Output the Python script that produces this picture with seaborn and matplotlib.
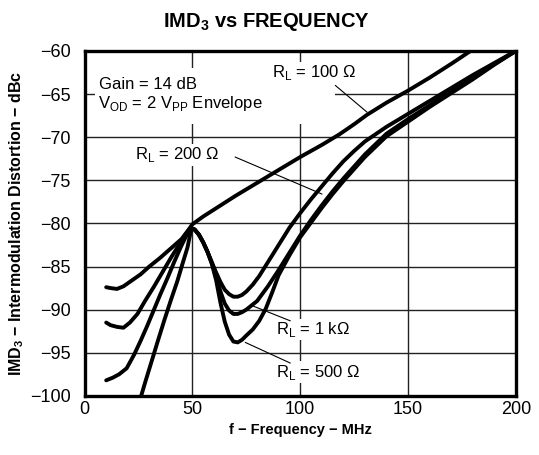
import numpy as np
import pandas as pd
import matplotlib
matplotlib.use("Agg")
import matplotlib.pyplot as plt
from matplotlib.patches import Rectangle
import seaborn as sns

# ---- data ----
freq_100 = [10, 12, 15, 18, 22, 26, 30, 35, 40, 45, 48, 50, 55, 60, 70, 80, 90, 100,
            105, 110, 118, 125, 131, 140, 150, 160, 170, 179]
imd_100 = [-87.4, -87.5, -87.6, -87.3, -86.6, -85.9, -85.0, -84.0, -82.9, -81.8, -80.8, -80.1,
           -79.2, -78.4, -76.8, -75.3, -73.8, -72.3, -71.6, -70.9, -69.7, -68.5, -67.4,
           -66.0, -64.6, -63.1, -61.5, -60.0]

freq_200 = [10, 12, 15, 18, 21, 24.5, 28, 32, 36, 40, 43, 46, 48, 49.5, 51, 53, 55, 57, 59,
            61, 63, 65, 67, 69, 71, 73, 75, 78, 81, 85, 90, 95, 100, 105, 110, 115, 120, 125,
            130, 140, 150, 160, 170, 180, 190, 200]
imd_200 = [-91.5, -91.8, -92.0, -92.1, -91.5, -90.5, -89.0, -87.4, -85.7, -84.0, -82.8,
           -81.6, -80.9, -80.6, -80.7, -81.3, -82.2, -83.3, -84.5, -85.7, -86.8, -87.7,
           -88.2, -88.5, -88.5, -88.3, -87.9, -87.1, -86.1, -84.5, -82.5, -80.5, -78.8, -77.2,
           -75.7, -74.2, -72.8, -71.6, -70.5, -68.8, -67.3, -65.8, -64.3, -62.8, -61.4, -60.0]

freq_1k = [10, 13, 16, 19.5, 23, 26, 29, 32, 35, 38.5, 41.5, 44.5, 47, 49.5, 51, 53, 55, 57,
           59, 61, 63, 65, 67, 69, 71, 73, 75, 80, 85, 90, 95, 100, 105, 110, 115, 120, 125,
           130, 140, 150, 160, 170, 180, 190, 200]
imd_1k = [-98.2, -97.9, -97.5, -96.8, -95.2, -93.6, -91.9, -90.1, -88.3, -86.3, -84.5,
          -82.8, -81.5, -80.6, -80.7, -81.3, -82.2, -83.3, -84.6, -86.1, -87.9, -89.3,
          -90.1, -90.5, -90.5, -90.3, -90.0, -89.0, -87.3, -85.4, -83.4, -81.4, -79.6,
          -77.9, -76.3, -74.8, -73.4, -72.0, -69.6, -67.9, -66.3, -64.7, -63.1, -61.5, -60.0]

freq_500 = [26, 28, 30.7, 34, 37, 40, 43, 45.5, 47.7, 49.5, 51, 53, 55, 57, 59, 61, 63, 65,
            67, 69, 71, 73, 75, 78, 81, 84, 87, 90, 95, 100, 105, 110, 115, 120, 125, 130,
            140, 150, 160, 170, 180, 190, 200]
imd_500 = [-100.2, -98.5, -96.3, -93.6, -91.2, -88.9, -86.7, -84.6, -82.8, -80.6, -80.7,
           -81.3, -82.2, -83.3, -84.7, -86.6, -89.2, -91.4, -92.9, -93.7, -93.8, -93.5,
           -93.0, -92.3, -91.3, -89.9, -88.0, -86.0, -83.7, -81.6, -79.9, -78.2, -76.6,
           -75.1, -73.7, -72.3, -69.9, -68.2, -66.5, -64.9, -63.3, -61.6, -60.0]

series_names = ["100", "200", "1k", "500"]
x_ticks = [0, 50, 100, 150, 200]
y_ticks = [-100, -95, -90, -85, -80, -75, -70, -65, -60]

frames = []
for name, f, v in zip(series_names, [freq_100, freq_200, freq_1k, freq_500],
                      [imd_100, imd_200, imd_1k, imd_500]):
    frames.append(pd.DataFrame({"freq": f, "imd": v, "load": name}))
df = pd.concat(frames, ignore_index=True)

# ---- style ----
sns.set_theme(style="white")
plt.rcParams["font.family"] = ["Liberation Sans", "DejaVu Sans"]
plt.rcParams["axes.unicode_minus"] = True
plt.rcParams["text.color"] = "black"
plt.rcParams["axes.labelcolor"] = "black"
plt.rcParams["xtick.color"] = "black"
plt.rcParams["ytick.color"] = "black"

fig = plt.figure(figsize=(5.39, 4.55), dpi=100)
ax = fig.add_axes([0.157, 0.130, 0.800, 0.758])

sns.lineplot(data=df, x="freq", y="imd", hue="load", units="load", estimator=None,
             sort=False, palette={n: "black" for n in series_names}, legend=False,
             linewidth=2.8, ax=ax, zorder=5, solid_capstyle="round",
             solid_joinstyle="round")

ax.set_xlim(0, 200)
ax.set_ylim(-100, -60)
ax.set_xticks(x_ticks)
ax.set_yticks(y_ticks)
ax.grid(True, color="#222222", linewidth=1.0)
ax.set_axisbelow(True)
ax.tick_params(axis="both", length=0, labelsize=13, colors="black")
ax.tick_params(axis="y", pad=10)
ax.tick_params(axis="x", pad=4)
for s in ax.spines.values():
    s.set_linewidth(2.4)
    s.set_color("black")

ax.set_xlabel("f − Frequency − MHz", fontsize=10.5, fontweight="bold", color="black")
ax.set_ylabel(r"IMD$_\mathregular{3}$ − Intermodulation Distortion − dBc",
              fontsize=11.5, fontweight="bold", color="black")
ax.xaxis.set_label_coords(0.5, -0.078)
ax.yaxis.set_label_coords(-0.135, 0.5)

fig.text(0.494, 1 - 27 / 455, r"IMD$_\mathregular{3}$ vs FREQUENCY", ha="center",
         va="baseline", fontsize=14.5, fontweight="bold", color="black")

# white area behind the condition text
ax.add_patch(Rectangle((5, -68.5), 111, 6.5, facecolor="white", edgecolor="none",
                       zorder=1.5))

txt_kw = dict(transform=ax.transAxes, fontsize=12, va="baseline", ha="left", zorder=3,
              color="black")
ax.text(0.034, 0.889, "Gain = 14 dB", **txt_kw)
ax.text(0.031, 0.834, r"V$_\mathregular{OD}$ = 2 V$_\mathregular{PP}$ Envelope", **txt_kw)

box = dict(facecolor="white", edgecolor="none", pad=1.0)
ax.text(0.434, 0.924, r"R$_\mathregular{L}$ = 100 Ω", bbox=box, **txt_kw)
ax.text(0.117, 0.686, r"R$_\mathregular{L}$ = 200 Ω", bbox=box, **txt_kw)
ax.text(0.444, 0.179, r"R$_\mathregular{L}$ = 1 kΩ", bbox=box, **txt_kw)
ax.text(0.444, 0.056, r"R$_\mathregular{L}$ = 500 Ω", bbox=box, **txt_kw)

# leader lines
lead_kw = dict(color="black", linewidth=0.8, zorder=4)
ax.plot([116.3, 131.0], [-64.0, -67.1], **lead_kw)
ax.plot([69.8, 110.1], [-72.3, -76.6], **lead_kw)
ax.plot([78.3, 95.4], [-89.6, -91.3], **lead_kw)
ax.plot([74.5, 95.4], [-93.8, -96.2], **lead_kw)

fig.savefig("out.png", dpi=100, facecolor="white")
